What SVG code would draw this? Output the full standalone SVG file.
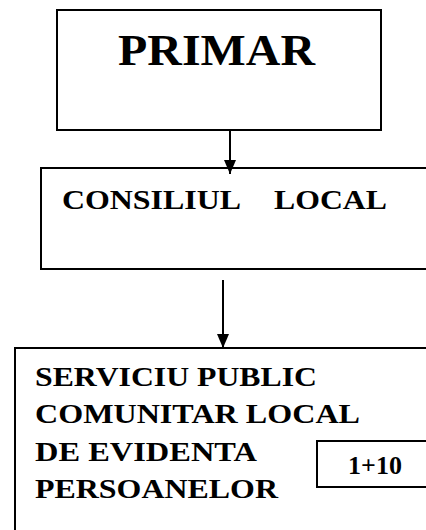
<svg xmlns="http://www.w3.org/2000/svg" width="426" height="530" viewBox="0 0 426 530">
<style>
.box{fill:#fff;stroke:#000;stroke-width:2}
.t{font-family:"Liberation Serif","Times New Roman",serif;font-weight:bold;fill:#000}
.conn{stroke:#000;stroke-width:2;fill:none}
</style>
<defs>
<marker id="ah" viewBox="0 0 14 12" refX="14" refY="6" markerWidth="14" markerHeight="12" markerUnits="userSpaceOnUse" orient="auto">
<path d="M0,0 L14,6 L0,12 Z" fill="#000"/>
</marker>
</defs>
<rect width="426" height="530" fill="#fff"/>
<g id="primar">
<rect class="box" x="57" y="10" width="324" height="120"/>
<text class="t" x="118" y="65" font-size="44" textLength="197" lengthAdjust="spacingAndGlyphs">PRIMAR</text>
</g>
<g id="consiliul">
<rect class="box" x="41" y="168" width="400" height="101"/>
<text class="t" x="62" y="209" font-size="27" textLength="179" lengthAdjust="spacingAndGlyphs">CONSILIUL</text>
<text class="t" x="274" y="209" font-size="27" textLength="113" lengthAdjust="spacingAndGlyphs">LOCAL</text>
</g>
<g id="serviciu">
<rect class="box" x="15" y="348" width="430" height="200"/>
<text class="t" x="35" y="386" font-size="28" textLength="282" lengthAdjust="spacingAndGlyphs">SERVICIU PUBLIC</text>
<text class="t" x="35" y="423" font-size="28" textLength="325" lengthAdjust="spacingAndGlyphs">COMUNITAR LOCAL</text>
<text class="t" x="35" y="461" font-size="28" textLength="222" lengthAdjust="spacingAndGlyphs">DE EVIDENTA</text>
<text class="t" x="35" y="498" font-size="28" textLength="243" lengthAdjust="spacingAndGlyphs">PERSOANELOR</text>
</g>
<g id="numar">
<rect class="box" x="317" y="441" width="120" height="46"/>
<text class="t" x="375" y="474" font-size="26" text-anchor="middle">1+10</text>
</g>
<g id="connectors">
<line class="conn" x1="230" y1="130" x2="230" y2="174" marker-end="url(#ah)"/>
<line class="conn" x1="223" y1="280" x2="223" y2="348" marker-end="url(#ah)"/>
</g>
</svg>
